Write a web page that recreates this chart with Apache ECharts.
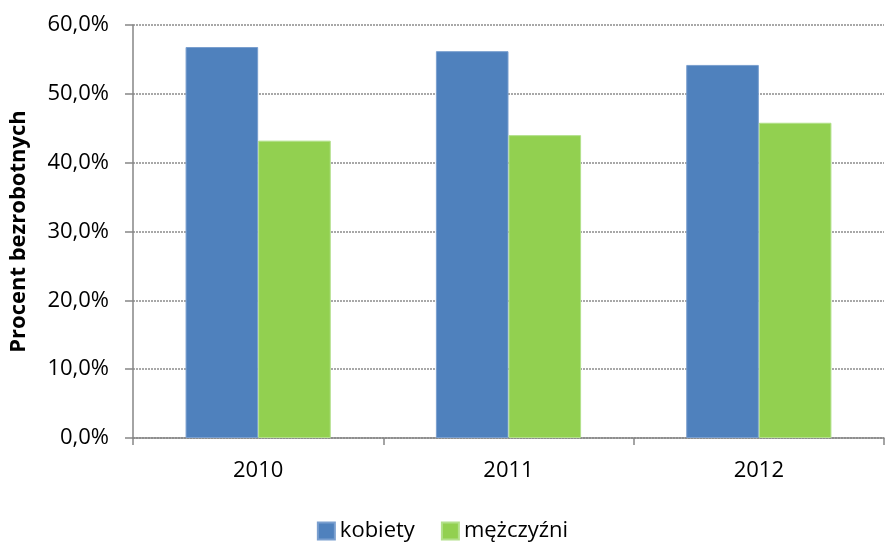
<!DOCTYPE html>
<html>
<head>
<meta charset="utf-8">
<script src="https://cdn.jsdelivr.net/npm/echarts@6/dist/echarts.min.js"></script>
<style>
  html, body { margin: 0; padding: 0; background: #fff; }
  #main { width: 885px; height: 543px; }
</style>
</head>
<body>
<div id="main"></div>
<script>
// dane z wykresu
var years = ['2010', '2011', '2012'];
var kobiety = [56.8, 56.2, 54.2];
var mezczyzni = [43.2, 44.0, 45.8];

var myChart = echarts.init(document.getElementById('main'));
var font = 'Open Sans';

var option = {
    animation: false,
    textStyle: { fontFamily: font },
    grid: { left: 132, right: 1, top: 25, bottom: 105 },
    legend: {
        bottom: -4,
        left: 'center',
        icon: 'rect',
        itemWidth: 17,
        itemHeight: 17,
        itemGap: 26,
        textStyle: { fontSize: 22, color: '#000', fontFamily: font },
        data: ['kobiety', 'mężczyźni']
    },
    xAxis: {
        type: 'category',
        data: years,
        axisLine: { lineStyle: { color: '#868686', width: 1.5 } },
        axisTick: { show: true, length: 7, lineStyle: { color: '#868686', width: 1.5 } },
        axisLabel: { fontSize: 22, color: '#000', margin: 22 }
    },
    yAxis: {
        type: 'value',
        min: 0,
        max: 60,
        interval: 10,
        name: 'Procent bezrobotnych',
        nameLocation: 'middle',
        nameGap: 103,
        nameTextStyle: { fontSize: 22, fontWeight: 'bold', color: '#000' },
        axisLine: { show: true, lineStyle: { color: '#868686', width: 1.5 } },
        axisTick: { show: true, length: 8, lineStyle: { color: '#868686', width: 1.5 } },
        axisLabel: {
            fontSize: 22,
            color: '#000',
            margin: 24,
            formatter: function (v) { return v.toFixed(1).replace('.', ',') + '%'; }
        },
        splitLine: { lineStyle: { color: '#8c8c8c', type: [2, 1], width: 1.5 } }
    },
    series: [
        {
            name: 'kobiety',
            type: 'bar',
            data: kobiety,
            barGap: '0%',
            barCategoryGap: '42%',
            itemStyle: { color: '#4F81BD', borderColor: '#7a9fcf', borderWidth: 1 }
        },
        {
            name: 'mężczyźni',
            type: 'bar',
            data: mezczyzni,
            itemStyle: { color: '#92D050', borderColor: '#b2e08a', borderWidth: 1 }
        }
    ]
};

myChart.setOption(option);
</script>
</body>
</html>
